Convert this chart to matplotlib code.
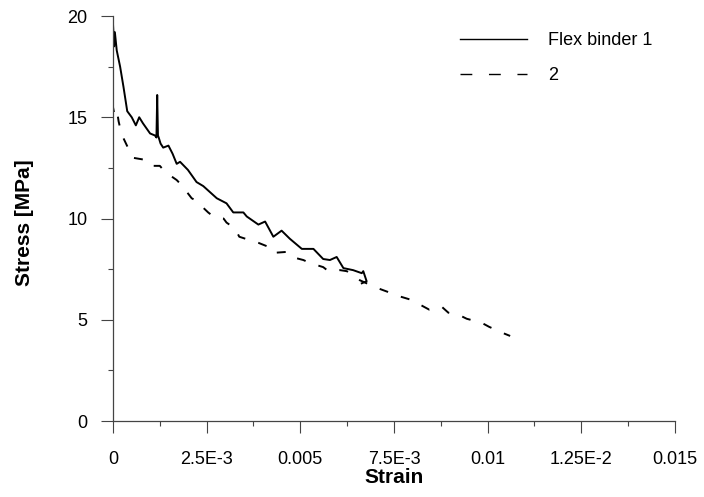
import matplotlib.pyplot as plt
from matplotlib.lines import Line2D
from matplotlib.ticker import MultipleLocator

plt.rcParams['font.family'] = ['Liberation Sans', 'DejaVu Sans']

# Flex binder 1 (solid)
strain_1 = [0, 0, 0.00003, 0.00005, 0.0001, 0.00019, 0.00028, 0.00038, 0.0005, 0.00061,
            0.0007, 0.0008, 0.00099, 0.00112, 0.00116, 0.00118, 0.0012, 0.00122, 0.00127,
            0.00134, 0.00148, 0.00159, 0.0017, 0.00179, 0.002, 0.00223, 0.00241, 0.00259,
            0.00277, 0.00303, 0.00321, 0.00348, 0.00357, 0.00388, 0.00406, 0.00428, 0.0045,
            0.00472, 0.00504, 0.00535, 0.00561, 0.00579, 0.00597, 0.00615, 0.00641, 0.00664,
            0.00668, 0.00677, 0.00664]
stress_1 = [0, 19.6, 18.5, 19.2, 18.3, 17.5, 16.5, 15.3, 15.0, 14.6,
            15.0, 14.7, 14.2, 14.1, 14.0, 16.1, 14.1, 14.0, 13.7,
            13.5, 13.6, 13.2, 12.7, 12.8, 12.4, 11.8, 11.6, 11.3,
            11.0, 10.75, 10.3, 10.3, 10.1, 9.7, 9.85, 9.1, 9.4,
            9.0, 8.5, 8.5, 8.0, 7.95, 8.1, 7.55, 7.45, 7.3,
            7.4, 6.9, 6.8]

# Flex binder 2 (dashed)
strain_2 = [0, 0, 0.00003, 0.0001, 0.00015, 0.0002, 0.00027, 0.00045, 0.00053, 0.00085,
            0.001, 0.00125, 0.00139, 0.0017, 0.00183, 0.0021, 0.0022, 0.00254, 0.00268,
            0.00295, 0.00303, 0.00326, 0.00337, 0.0037, 0.00388, 0.00415, 0.00426, 0.00463,
            0.00477, 0.00508, 0.00526, 0.00561, 0.00575, 0.00606, 0.00624, 0.00659, 0.00677,
            0.00708, 0.0073, 0.00766, 0.00793, 0.00824, 0.00844, 0.00877, 0.00895, 0.00922,
            0.00944, 0.00984, 0.01004, 0.0104, 0.0106]
stress_2 = [0, 15.5, 15.2, 15.4, 14.8, 14.4, 14.0, 13.3, 13.0, 12.9,
            12.6, 12.6, 12.3, 11.9, 11.65, 11.0, 10.9, 10.3, 10.1,
            10.0, 9.8, 9.5, 9.1, 8.9, 8.8, 8.6, 8.3, 8.35,
            8.1, 7.95, 7.8, 7.6, 7.4, 7.45, 7.4, 6.95, 6.8,
            6.55, 6.4, 6.15, 6.0, 5.7, 5.5, 5.65, 5.35, 5.25,
            5.05, 4.85, 4.65, 4.35, 4.2]

x_ticks = [0, 0.0025, 0.005, 0.0075, 0.01, 0.0125, 0.015]
x_tick_labels = ['0', '2.5E-3', '0.005', '7.5E-3', '0.01', '1.25E-2', '0.015']
y_ticks = [0, 5, 10, 15, 20]
labels = ['Flex binder 1', '2']

fig = plt.figure(figsize=(7.04, 4.97), dpi=100)
ax = fig.add_axes([0.1605, 0.1529, 0.7983, 0.8149])

ax.plot(strain_1, stress_1, color='black', lw=1.4)
ax.plot(strain_2, stress_2, color='black', lw=1.4, ls=(3, (4.6, 7.0)))

ax.set_xlim(0, 0.015)
ax.set_ylim(0, 20)
ax.set_xticks(x_ticks)
ax.set_xticklabels(x_tick_labels)
ax.set_yticks(y_ticks)
ax.xaxis.set_minor_locator(MultipleLocator(0.00125))
ax.yaxis.set_minor_locator(MultipleLocator(2.5))

for s in ['top', 'right']:
    ax.spines[s].set_visible(False)
for s in ['left', 'bottom']:
    ax.spines[s].set_color('#444444')
    ax.spines[s].set_linewidth(0.9)

ax.tick_params(axis='both', which='major', direction='out', length=8.5, width=0.8,
               color='#444444', labelsize=13)
ax.tick_params(axis='both', which='minor', direction='out', length=3.8, width=0.8,
               color='#444444')
ax.tick_params(axis='y', which='major', pad=10)
ax.tick_params(axis='x', which='major', pad=13)

ax.set_xlabel('Strain', fontsize=15, fontweight='bold', labelpad=0)
ax.set_ylabel('Stress [MPa]', fontsize=15, fontweight='bold')
ax.yaxis.set_label_coords(-0.14, 0.49)

handles = [Line2D([], [], color='black', lw=1.0),
           Line2D([], [], color='black', lw=1.0, ls=(0, (8.5, 12)))]
fig.legend(handles, labels, loc='upper left', bbox_to_anchor=(460 / 704, 1 - 32 / 497),
           frameon=False, fontsize=13, borderpad=0, borderaxespad=0,
           handlelength=3.7, handletextpad=1.2, labelspacing=1.0)

fig.savefig('out.png', dpi=100)
